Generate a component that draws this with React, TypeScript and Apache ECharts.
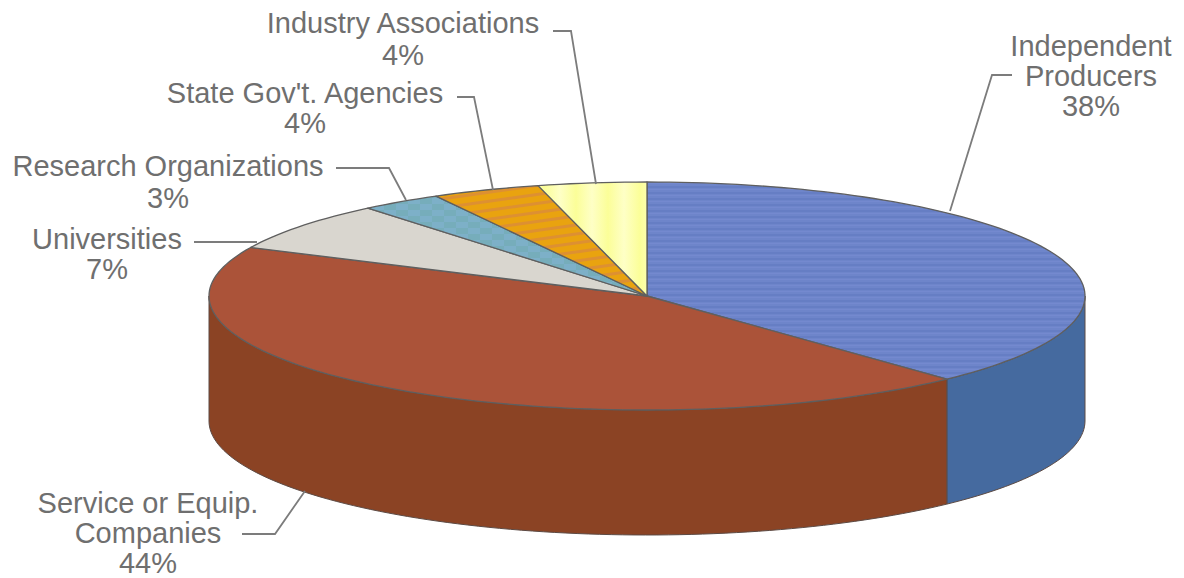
import React, { useEffect, useRef } from "react";
import * as echarts from "echarts";

// Respondent groups, clockwise from twelve o'clock
const CATEGORIES = [
  "Independent\nProducers",
  "Service or Equip.\nCompanies",
  "Universities",
  "Research Organizations",
  "State Gov't. Agencies",
  "Industry Associations",
];
const SHARES = [38, 44, 7, 3, 4, 4];

const TOP_COLORS = ["#6d84c9", "#ab5339", "#d9d6cf", "#7db0c8", "#e8a212", "#fafd9c"];
const WALL_COLORS = ["#456a9f", "#8b4324", "#999999", "#5a8299", "#a87510", "#b5b770"];

// Geometry of the tilted disc
const CX = 647;
const CY = 296;
const RX = 438;
const RY = 114;
const DEPTH = 125;

// Where each caption sits and how its leader line runs to the rim
const CAPTIONS = [
  { x: 1091, y: 31, lh: 30, leader: [[1012, 75], [992, 75], [950, 211]] },
  { x: 148, y: 488, lh: 30, leader: [[242, 534], [275, 534], [305, 491]] },
  { x: 107, y: 224, lh: 30, leader: [[194, 242], [257, 242]] },
  { x: 168, y: 150, lh: 32, leader: [[336, 168], [389, 168], [406, 200]] },
  { x: 305, y: 78, lh: 30, leader: [[457, 97], [474, 97], [493, 190]] },
  { x: 403, y: 7, lh: 32, leader: [[553, 31], [571, 31], [596, 184]] },
];

const TOTAL = SHARES.reduce((a, b) => a + b, 0);

function sliceAngles(i: number): [number, number] {
  let before = 0;
  for (let k = 0; k < i; k++) before += SHARES[k];
  return [(before / TOTAL) * 360, ((before + SHARES[i]) / TOTAL) * 360];
}

function rim(deg: number, dy = 0): [number, number] {
  const r = (deg * Math.PI) / 180;
  return [CX + RX * Math.sin(r), CY - RY * Math.cos(r) + dy];
}

function arcPoints(a0: number, a1: number, dy = 0) {
  const n = Math.max(2, Math.ceil(Math.abs(a1 - a0) / 1.5));
  const pts: [number, number][] = [];
  for (let i = 0; i <= n; i++) pts.push(rim(a0 + ((a1 - a0) * i) / n, dy));
  return pts;
}

// Builds a repeating tile used as the hatching of a slice
function tile(w: number, h: number, paint: (c: CanvasRenderingContext2D) => void) {
  const canvas = document.createElement("canvas");
  canvas.width = w;
  canvas.height = h;
  paint(canvas.getContext("2d")!);
  return { image: canvas, repeat: "repeat", imageWidth: w, imageHeight: h };
}

function slicePatterns(): any[] {
  const blue = tile(8, 6, (c) => {
    c.fillStyle = "#6e85ca";
    c.fillRect(0, 0, 8, 6);
    c.fillStyle = "#667ec4";
    c.fillRect(0, 0, 8, 2);
    c.fillStyle = "#7489cf";
    c.fillRect(0, 3, 8, 1);
  });
  const orange = tile(64, 9, (c) => {
    c.fillStyle = "#e9a30f";
    c.fillRect(0, 0, 64, 9);
    c.strokeStyle = "#dd9032";
    c.lineWidth = 3;
    for (const off of [-9, 0, 9]) {
      c.beginPath();
      c.moveTo(0, 9 + off);
      c.lineTo(64, off);
      c.stroke();
    }
  });
  const yellow = tile(32, 8, (c) => {
    const g = c.createLinearGradient(0, 0, 32, 0);
    g.addColorStop(0, "#fbfe98");
    g.addColorStop(0.5, "#feffc6");
    g.addColorStop(1, "#fbfe98");
    c.fillStyle = g;
    c.fillRect(0, 0, 32, 8);
  });
  const teal = tile(24, 12, (c) => {
    c.fillStyle = "#7db0c8";
    c.fillRect(0, 0, 24, 12);
    c.fillStyle = "#76adbb";
    c.fillRect(0, 0, 12, 6);
    c.fillRect(12, 6, 12, 6);
  });
  return [blue, TOP_COLORS[1], TOP_COLORS[2], teal, orange, yellow];
}

export default function App() {
  const ref = useRef<HTMLDivElement>(null);

  useEffect(() => {
    document.body.style.margin = "0";
    document.body.style.background = "#ffffff";
    const chart = echarts.init(ref.current!, null, { renderer: "svg" });
    const fills = slicePatterns();

    const text = "#6f6f6f";
    const graphic: any[] = [];
    CATEGORIES.forEach((name, i) => {
      const cap = CAPTIONS[i];
      graphic.push({
        type: "polyline",
        z: 20,
        silent: true,
        shape: { points: cap.leader },
        style: { stroke: "#7c7c7c", lineWidth: 1.8, fill: "none" },
      });
      graphic.push({
        type: "text",
        z: 20,
        silent: true,
        style: {
          x: cap.x,
          y: cap.y,
          text: `${name}\n${SHARES[i]}%`,
          fill: text,
          font: '29px "Liberation Sans", Arial, sans-serif',
          lineHeight: cap.lh,
          align: "center",
          verticalAlign: "top",
        },
      });
    });

    chart.setOption({
      animation: false,
      backgroundColor: "#ffffff",
      graphic,
      series: [
        // Front wall of the cylinder: only the part between 90° and 270° shows
        {
          type: "custom",
          coordinateSystem: "none",
          z: 2,
          silent: true,
          data: SHARES,
          renderItem: (params: any) => {
            const [a0, a1] = sliceAngles(params.dataIndex);
            const from = Math.max(a0, 90);
            const to = Math.min(a1, 270);
            if (to <= from) return null;
            const points = [...arcPoints(from, to), ...arcPoints(to, from, DEPTH)];
            return {
              type: "polygon",
              shape: { points },
              style: {
                fill: WALL_COLORS[params.dataIndex],
                stroke: "#5c4a44",
                lineWidth: 1,
              },
            };
          },
        },
        // Upper face of each slice
        {
          type: "custom",
          coordinateSystem: "none",
          z: 3,
          silent: true,
          data: SHARES,
          renderItem: (params: any) => {
            const [a0, a1] = sliceAngles(params.dataIndex);
            const points = [[CX, CY], ...arcPoints(a0, a1)];
            return {
              type: "polygon",
              shape: { points },
              style: {
                fill: fills[params.dataIndex],
                stroke: "#5f5f5f",
                lineWidth: 1.3,
                lineJoin: "round",
              },
            };
          },
        },
      ],
    });

    return () => chart.dispose();
  }, []);

  return <div ref={ref} style={{ width: 1184, height: 578 }} />;
}
